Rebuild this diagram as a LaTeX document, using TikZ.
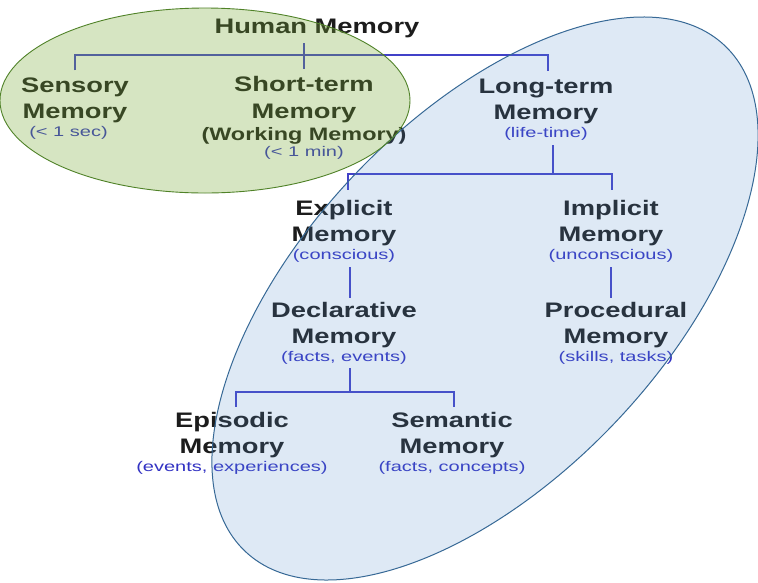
\documentclass[tikz,border=0pt]{standalone}
\usepackage{fontspec}
\newfontfamily\mainf{Liberation Sans}[FakeStretch=1.3]
\newfontfamily\subf{Liberation Sans}[FakeStretch=1.43]
\definecolor{maintext}{RGB}{28,28,28}
\definecolor{subtext}{RGB}{50,50,195}
\definecolor{linecol}{RGB}{65,65,200}
\definecolor{greenfill}{RGB}{122,172,55}
\definecolor{greenedge}{RGB}{80,130,40}
\definecolor{bluefill}{RGB}{90,145,205}
\definecolor{blueedge}{RGB}{55,105,150}
\newcommand\mainsz{\mainf\bfseries\fontsize{21}{26}\selectfont}
\newcommand\wmsz{\mainf\bfseries\fontsize{18}{22}\selectfont}
\newcommand\subsz{\subf\fontsize{14}{18}\selectfont\color{subtext}}
\newcommand\lblthree[3]{\vtop{\lineskiplimit=-100pt\lineskip=0pt\baselineskip=26pt
  \halign{\hfil##\hfil\cr{\mainsz #1}\cr{\mainsz #2}\cr\noalign{\kern-8pt}{\subsz #3}\cr}}}
\newcommand\lblfour[4]{\vtop{\lineskiplimit=-100pt\lineskip=0pt\baselineskip=27pt
  \halign{\hfil##\hfil\cr{\mainsz #1}\cr{\mainsz #2}\cr\noalign{\kern-5pt}{\wmsz #3}\cr\noalign{\kern-11pt}{\subsz #4}\cr}}}
\tikzset{
  lab/.style={inner sep=0pt, anchor=base, text=maintext},
  conn/.style={draw=linecol, line width=2.4pt},
}
\begin{document}
\begin{tikzpicture}[x=1pt,y=-1pt]
\useasboundingbox (0,0) rectangle (758,582);
\fill[white] (0,0) rectangle (758,582);
% labels
\node[lab] (hm) at (317,33) {\mainsz Human Memory};
\node[lab] (sen) at (75,92) {\lblthree{Sensory}{Memory}{(< 1 sec)\hspace*{13pt}}};
\node[lab] (stm) at (304,91) {\lblfour{Short-term}{Memory}{(Working Memory)}{(< 1 min)}};
\node[lab] (ltm) at (546,93) {\lblthree{Long-term}{Memory}{(life-time)}};
\node[lab] (exp) at (344,215) {\lblthree{Explicit}{Memory}{(conscious)}};
\node[lab] (imp) at (611,215) {\lblthree{Implicit}{Memory}{(unconscious)}};
\node[lab] (dec) at (344,317) {\lblthree{Declarative}{Memory}{(facts, events)}};
\node[lab] (pro) at (616,317) {\lblthree{Procedural}{Memory}{(skills, tasks)}};
\node[lab] (epi) at (232,427) {\lblthree{Episodic}{Memory}{(events, experiences)}};
\node[lab] (sem) at (452,427) {\lblthree{Semantic}{Memory}{(facts, concepts)}};
% junction levels
\coordinate (ytop) at (0,55);
\coordinate (ylt) at (0,174);
\coordinate (yde) at (0,392);
% connectors
\draw[conn, shorten <=5.6pt, shorten >=6.6pt] (hm.south -| stm.north) -- (stm.north);
\draw[conn] ([yshift=6.7pt]sen.north) -- (sen.north |- ytop) -- ([xshift=2pt]ltm.north |- ytop) -- ([xshift=2pt,yshift=7pt]ltm.north);
\draw[conn, shorten <=5.3pt] ([xshift=7pt]ltm.south) -- ([xshift=7pt]ltm.south |- ylt);
\draw[conn] ([xshift=4pt,yshift=10pt]exp.north) -- ([xshift=4pt]exp.north |- ylt) -- ([xshift=1pt]imp.north |- ylt) -- ([xshift=1pt,yshift=10pt]imp.north);
\draw[conn, shorten <=5.3pt, shorten >=4pt] ([xshift=6pt]exp.south) -- ([xshift=6pt]exp.south |- dec.north);
\draw[conn, shorten <=5.3pt, shorten >=4pt] (imp.south) -- (imp.south |- pro.north);
\draw[conn, shorten <=4.3pt] ([xshift=6pt]dec.south) -- ([xshift=6pt]dec.south |- yde);
\draw[conn] ([xshift=4pt,yshift=5pt]epi.north) -- ([xshift=4pt]epi.north |- yde) -- ([xshift=2pt]sem.north |- yde) -- ([xshift=2pt,yshift=5pt]sem.north);
% regions
\path[fill=bluefill, fill opacity=0.2, draw=blueedge, line width=1pt, rotate around={46.5:(485,298.5)}] (485,298.5) ellipse [x radius=348.5pt, y radius=179.8pt];
\path[fill=greenfill, fill opacity=0.3, draw=greenedge, line width=0.9pt] (205,100.5) ellipse [x radius=205pt, y radius=92.5pt];
\end{tikzpicture}
\end{document}
